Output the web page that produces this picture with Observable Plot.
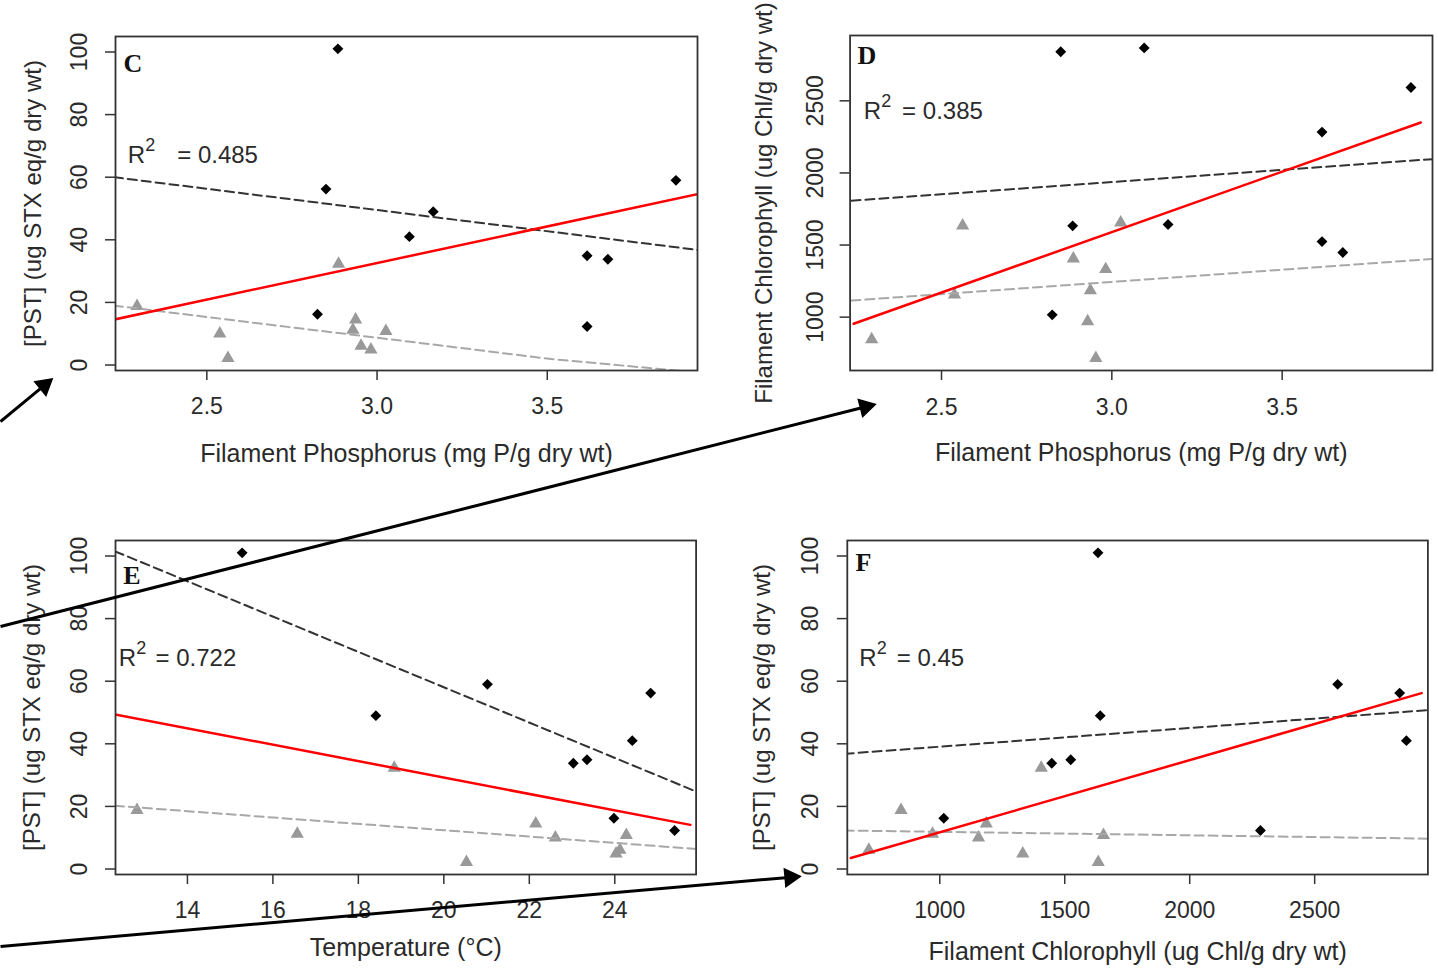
<!DOCTYPE html>
<html>
<head>
<meta charset="utf-8">
<script src="https://cdn.jsdelivr.net/npm/d3@7"></script>
<script src="https://cdn.jsdelivr.net/npm/@observablehq/plot@0.6"></script>
<style>
  body { margin: 0; background: #fff; }
  #fig { position: relative; width: 1438px; height: 969px; overflow: hidden; background: #fff; }
  #fig svg { position: absolute; overflow: visible; background: transparent; }
</style>
</head>
<body>
<div id="fig"></div>
<script>
// Filament samples: nine dark (diamond) and nine light (triangle) samples
const group = ["dark","dark","dark","dark","dark","dark","dark","dark","dark",
               "light","light","light","light","light","light","light","light","light"];
const phosphorus  = [2.885, 2.850, 3.165, 3.095, 3.617, 3.678, 3.878, 2.825, 3.617,
                     2.295, 2.538, 2.562, 2.887, 2.937, 2.929, 2.953, 2.982, 3.026];
const chlorophyll = [1633, 2840, 1642, 2867, 1524, 1448, 2592, 1016, 2283,
                     845, 1155, 1634, 1406, 1186, 971, 716, 1332, 1655];
const temperature = [15.28, 24.84, 18.41, 24.41, 23.35, 23.03, 21.02, 23.98, 25.40,
                     12.82, 22.61, 20.53, 18.84, 22.15, 16.57, 24.12, 24.03, 24.27];
const pst         = [101.0, 56.2, 49.0, 41.0, 34.9, 33.8, 59.0, 16.2, 12.3,
                     18.8, 10.0, 2.2, 32.3, 14.5, 11.2, 6.1, 4.9, 10.8];

// Tick values
const ticksP    = [2.5, 3.0, 3.5];
const ticksPST  = [0, 20, 40, 60, 80, 100];
const ticksChl  = [1000, 1500, 2000, 2500];
const ticksTemp = [14, 16, 18, 20, 22, 24];

// Fitted lines: overall (red), dark group and light group (dashed)
const fitC = [
  {s: "all", x: 2.227, y: 14.5}, {s: "all", x: 3.946, y: 54.7},
  {s: "dark", x: 2.227, y: 60.0}, {s: "dark", x: 3.946, y: 36.7},
  {s: "light", x: 2.227, y: 19.0}, {s: "light", x: 2.675, y: 13.0}, {s: "light", x: 3.07, y: 7.8},
  {s: "light", x: 3.512, y: 1.9}, {s: "light", x: 3.946, y: -2.4}
];
const fitD = [
  {s: "all", x: 2.242, y: 954}, {s: "all", x: 3.907, y: 2350},
  {s: "dark", x: 2.2355, y: 1807}, {s: "dark", x: 3.943, y: 2096},
  {s: "light", x: 2.2355, y: 1115}, {s: "light", x: 3.943, y: 1404}
];
const fitE = [
  {s: "all", x: 12.305, y: 49.4}, {s: "all", x: 25.77, y: 14.1},
  {s: "dark", x: 12.305, y: 101.5}, {s: "dark", x: 25.86, y: 25.0},
  {s: "light", x: 12.305, y: 20.2}, {s: "light", x: 25.915, y: 6.4}
];
const fitF = [
  {s: "all", x: 644, y: 3.5}, {s: "all", x: 2928, y: 56.2},
  {s: "dark", x: 619.5, y: 36.8}, {s: "dark", x: 2959.7, y: 50.8},
  {s: "light", x: 619.5, y: 12.3}, {s: "light", x: 2959.7, y: 9.7}
];

// Panel texts
const letters  = ["C", "D", "E", "F"];
const r2Values = ["= 0.485", "= 0.385", "= 0.722", "= 0.45"];
const labelP    = "Filament Phosphorus (mg P/g dry wt)";
const labelPST  = "[PST] (ug STX eq/g dry wt)";
const labelChl  = "Filament Chlorophyll (ug Chl/g dry wt)";
const labelTemp = "Temperature (\u00B0C)";

// Pointer arrows drawn across the figure (page units)
const pointers = [
  {x1: 0, y1: 421, x2: 51, y2: 379},
  {x1: 0, y1: 626, x2: 874, y2: 404},
  {x1: 0, y1: 946, x2: 799, y2: 876}
];

const SANS = "'Liberation Sans', Arial, sans-serif";
const SERIF = "'Liberation Serif', 'Times New Roman', serif";
const INK = "#2a2a2a";

// R-style axis range: data extent widened by 4% on each side
function rRange(values) {
  const [lo, hi] = d3.extent(values);
  const s = (hi - lo) * 0.04;
  return [lo - s, hi + s];
}

function panel(o) {
  const pts = group.map((g, i) => ({g, x: o.xs[i], y: o.ys[i]}));
  const svg = Plot.plot({
    width: o.w, height: o.h,
    marginLeft: o.mL, marginRight: o.mR, marginTop: o.mT, marginBottom: o.mB,
    style: {fontFamily: SANS, fontSize: "23px", color: INK, background: "transparent", overflow: "visible"},
    x: {domain: rRange(o.xs)},
    y: {domain: rRange(o.ys)},
    marks: [
      Plot.dot(pts, {filter: d => d.g === "light", x: "x", y: "y", symbol: "triangle", r: 4.9, fill: "#999"}),
      Plot.dot(pts, {filter: d => d.g === "dark", x: "x", y: "y", symbol: "diamond2", r: 4.9, fill: "#000"}),
      Plot.line(o.fit, {filter: d => d.s === "light", x: "x", y: "y", stroke: "#a8a8a8", strokeWidth: 2, strokeDasharray: "9,5", clip: true}),
      Plot.line(o.fit, {filter: d => d.s === "dark", x: "x", y: "y", stroke: "#333", strokeWidth: 2, strokeDasharray: "9,5", clip: true}),
      Plot.line(o.fit, {filter: d => d.s === "all", x: "x", y: "y", stroke: "#ff0000", strokeWidth: 2.5, clip: true}),
      Plot.frame({stroke: "#333", strokeWidth: 1.8}),
      Plot.axisX({ticks: o.xTicks, tickFormat: o.xFmt, tickSize: 10, tickPadding: o.xPad, label: null, stroke: "#333", strokeWidth: 1.5, fill: INK}),
      Plot.axisY({ticks: o.yTicks, tickFormat: d => String(d), tickSize: 10, tickRotate: -90, tickPadding: o.yPad, label: null, stroke: "#333", strokeWidth: 1.5, fill: INK}),
      Plot.text([o.xLabel], {text: d => d, frameAnchor: "bottom", lineAnchor: "middle", textAnchor: "middle", dy: o.xLabelDy, fontSize: 25, fill: INK}),
      Plot.text([o.yLabel], {text: d => d, frameAnchor: "left", lineAnchor: "middle", textAnchor: "middle", dx: o.yLabelDx, rotate: -90, fontSize: 24, fill: INK}),
      Plot.text([o.letter], {text: d => d, frameAnchor: "top-left", textAnchor: "start", lineAnchor: "top",
        dx: o.letterDx, dy: o.letterDy, fontFamily: SERIF, fontWeight: "bold", fontSize: 26, fill: "#111"}),
      Plot.text(["R"], {text: d => d, frameAnchor: "top-left", textAnchor: "start", lineAnchor: "top",
        dx: o.rDx, dy: o.rDy, fontSize: 24, fill: INK}),
      Plot.text(["2"], {text: d => d, frameAnchor: "top-left", textAnchor: "start", lineAnchor: "top",
        dx: o.rDx + 17.5, dy: o.rDy - 7.5, fontSize: 18, fill: INK}),
      Plot.text([o.r2], {text: d => d, frameAnchor: "top-left", textAnchor: "start", lineAnchor: "top",
        dx: o.eqDx, dy: o.rDy, fontSize: 24, fill: INK})
    ]
  });
  svg.style.left = o.left + "px";
  svg.style.top = o.top + "px";
  return svg;
}

const fig = document.getElementById("fig");
const fmt1 = d3.format(".1f");

fig.append(panel({
  left: 0, top: 0, w: 720, h: 480, mL: 115, mR: 23, mT: 36, mB: 110,
  xs: phosphorus, ys: pst, fit: fitC, xTicks: ticksP, xFmt: fmt1, yTicks: ticksPST,
  xPad: 17, yPad: 19, xLabel: labelP, xLabelDy: 83, yLabel: labelPST, yLabelDx: -82,
  letter: letters[0], letterDx: 8, letterDy: 17, r2: r2Values[0], rDx: 12.3, rDy: 109, eqDx: 61.7
}));
fig.append(panel({
  left: 720, top: 0, w: 718, h: 480, mL: 129.6, mR: 6, mT: 35, mB: 110,
  xs: phosphorus, ys: chlorophyll, fit: fitD, xTicks: ticksP, xFmt: fmt1, yTicks: ticksChl,
  xPad: 18, yPad: 17, xLabel: labelP, xLabelDy: 82, yLabel: labelChl, yLabelDx: -86,
  letter: letters[1], letterDx: 7.5, letterDy: 10, r2: r2Values[1], rDx: 13.7, rDy: 66.5, eqDx: 52
}));
fig.append(panel({
  left: 0, top: 480, w: 720, h: 489, mL: 115, mR: 24.4, mT: 60, mB: 95,
  xs: temperature, ys: pst, fit: fitE, xTicks: ticksTemp, xFmt: d => String(d), yTicks: ticksPST,
  xPad: 17, yPad: 19, xLabel: labelTemp, xLabelDy: 73.5, yLabel: labelPST, yLabelDx: -83,
  letter: letters[2], letterDx: 7.7, letterDy: 25, r2: r2Values[2], rDx: 3.3, rDy: 108.3, eqDx: 40
}));
fig.append(panel({
  left: 720, top: 480, w: 718, h: 489, mL: 126.8, mR: 10.6, mT: 60, mB: 95,
  xs: chlorophyll, ys: pst, fit: fitF, xTicks: ticksChl, xFmt: d => String(d), yTicks: ticksPST,
  xPad: 17, yPad: 19, xLabel: labelChl, xLabelDy: 77.5, yLabel: labelPST, yLabelDx: -85,
  letter: letters[3], letterDx: 8.2, letterDy: 12, r2: r2Values[3], rDx: 11.9, rDy: 108.3, eqDx: 49.5
}));

// Overlay carrying the pointer arrows on top of all panels:
// a shaft from start to tip, and a filled triangular head turned along the shaft
const HEAD_R = 6;
const headBack = Math.sqrt(Math.PI * HEAD_R * HEAD_R / (3 * Math.sqrt(3))) * 2; // tip-to-centre distance of the triangle symbol
const heads = pointers.map(p => {
  const ang = Math.atan2(p.y2 - p.y1, p.x2 - p.x1);
  return {
    x: p.x2 - Math.cos(ang) * headBack,
    y: p.y2 - Math.sin(ang) * headBack,
    rotate: ang * 180 / Math.PI + 90
  };
});
const overlay = Plot.plot({
  width: 1438, height: 969, margin: 0,
  style: {background: "transparent", overflow: "visible"},
  x: {domain: [0, 1438], range: [0, 1438]},
  y: {domain: [0, 969], range: [0, 969]},
  axis: null,
  marks: [
    Plot.link(pointers, {x1: "x1", y1: "y1", x2: d => d.x2 - (d.x2 - d.x1) * 0.01, y2: d => d.y2 - (d.y2 - d.y1) * 0.01, stroke: "#000", strokeWidth: 3}),
    Plot.dot(heads, {x: "x", y: "y", rotate: "rotate", symbol: "triangle", r: HEAD_R * 1.25, fill: "#000"})
  ]
});
overlay.style.left = "0px";
overlay.style.top = "0px";
fig.append(overlay);
</script>
</body>
</html>
